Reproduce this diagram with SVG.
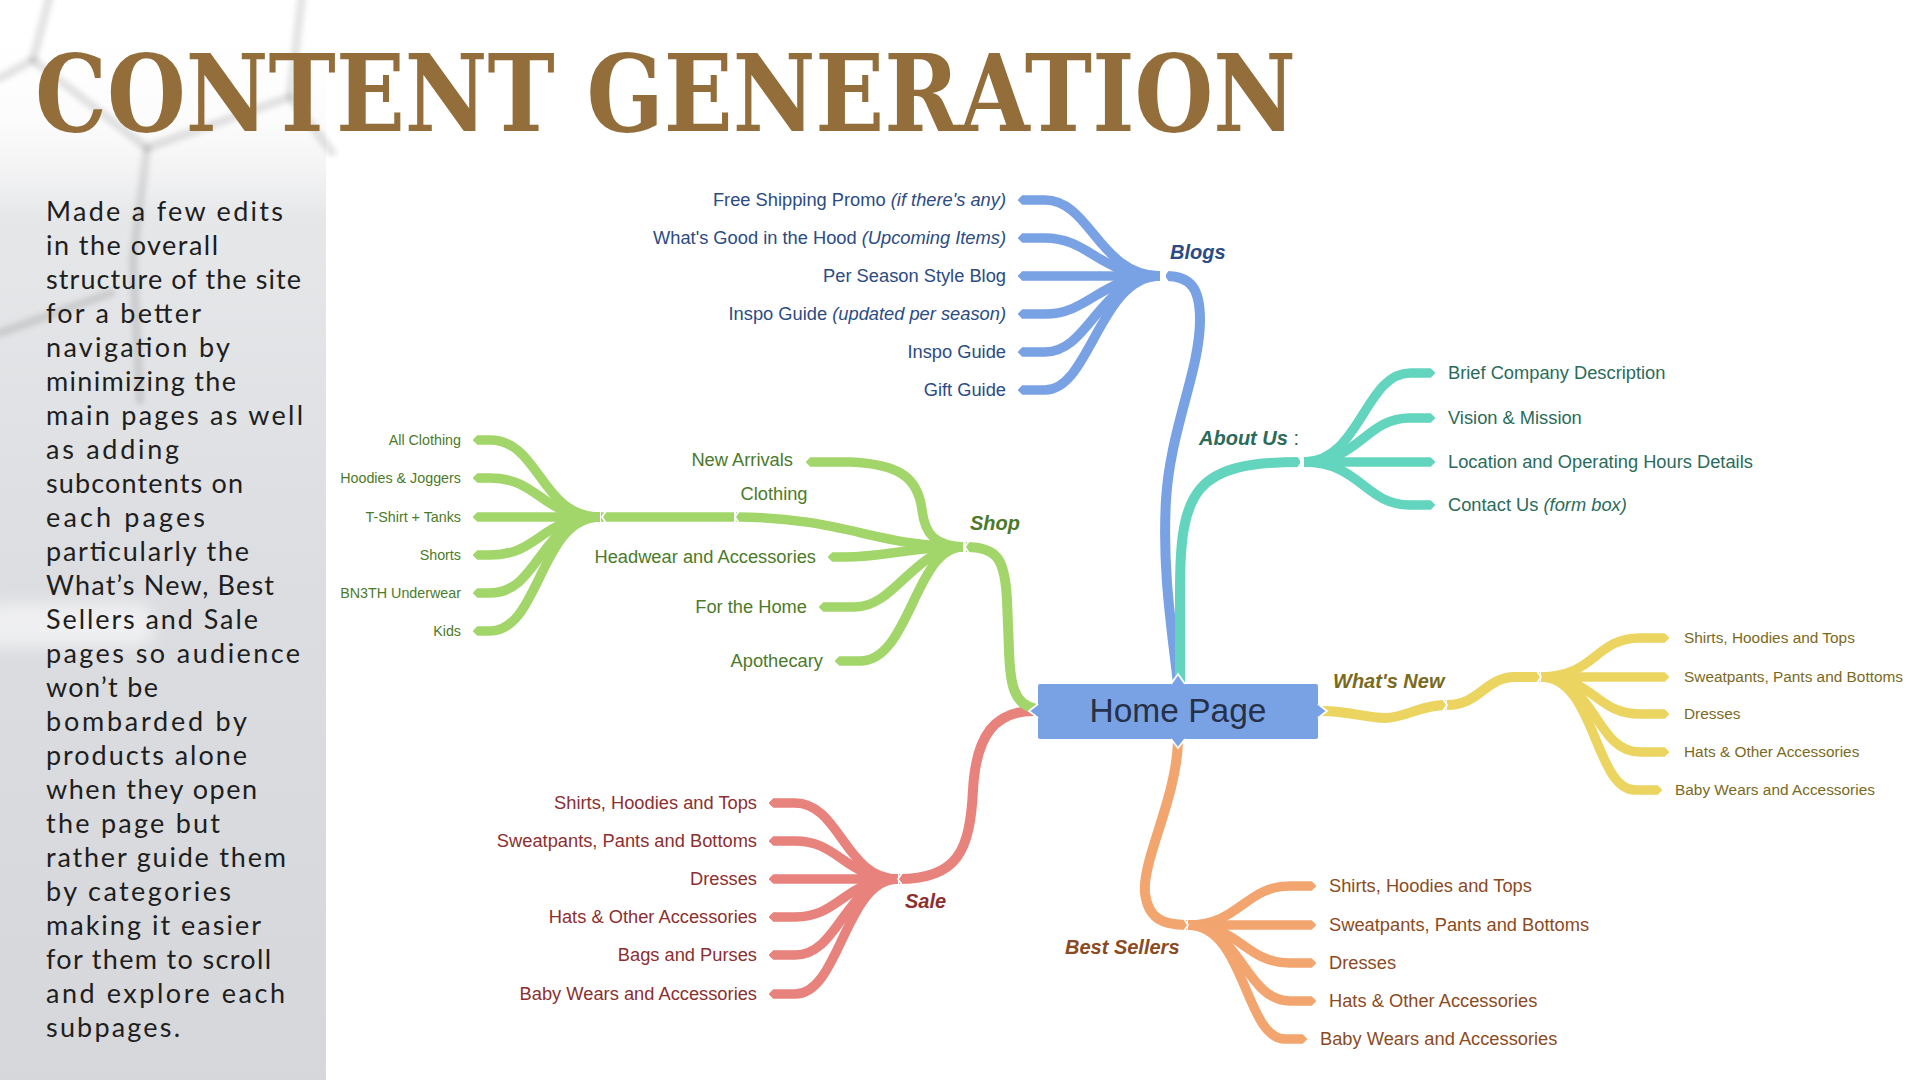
<svg xmlns="http://www.w3.org/2000/svg" width="1920" height="1080" viewBox="0 0 1920 1080">
<defs>
<linearGradient id="panelGrad" x1="0" y1="0" x2="0" y2="1">
<stop offset="0" stop-color="#ffffff" stop-opacity="0"/>
<stop offset="0.11" stop-color="#f4f4f5" stop-opacity="0.3"/>
<stop offset="0.2" stop-color="#e6e7e9"/>
<stop offset="0.55" stop-color="#dcdde0"/>
<stop offset="1" stop-color="#d6d7da"/>
</linearGradient>
<filter id="blur" x="-20%" y="-20%" width="140%" height="140%"><feGaussianBlur stdDeviation="2.5"/></filter>
<filter id="blur2" x="-50%" y="-50%" width="200%" height="200%"><feGaussianBlur stdDeviation="8"/></filter>
<marker id="mb" viewBox="0 0 5 10" refX="0.3" refY="5" markerWidth="0.5" markerHeight="1" orient="auto" markerUnits="strokeWidth"><path d="M0,0 L5,5 L0,10 Z" fill="#78a2e4"/></marker>
<marker id="mt" viewBox="0 0 5 10" refX="0.3" refY="5" markerWidth="0.5" markerHeight="1" orient="auto" markerUnits="strokeWidth"><path d="M0,0 L5,5 L0,10 Z" fill="#63d5bf"/></marker>
<marker id="my" viewBox="0 0 5 10" refX="0.3" refY="5" markerWidth="0.5" markerHeight="1" orient="auto" markerUnits="strokeWidth"><path d="M0,0 L5,5 L0,10 Z" fill="#ebd560"/></marker>
<marker id="mo" viewBox="0 0 5 10" refX="0.3" refY="5" markerWidth="0.5" markerHeight="1" orient="auto" markerUnits="strokeWidth"><path d="M0,0 L5,5 L0,10 Z" fill="#f2a56f"/></marker>
<marker id="mr" viewBox="0 0 5 10" refX="0.3" refY="5" markerWidth="0.5" markerHeight="1" orient="auto" markerUnits="strokeWidth"><path d="M0,0 L5,5 L0,10 Z" fill="#e8827c"/></marker>
<marker id="mg" viewBox="0 0 5 10" refX="0.3" refY="5" markerWidth="0.5" markerHeight="1" orient="auto" markerUnits="strokeWidth"><path d="M0,0 L5,5 L0,10 Z" fill="#a2d66b"/></marker>
</defs>
<style>
.c{fill:none;stroke-linecap:butt;stroke-linejoin:round}
.tr{stroke-width:10}
.lf{stroke-width:9.5}
.sb{stroke:#78a2e4}.lb .lf,.lb{}
.st{stroke:#63d5bf}
.sy{stroke:#ebd560}
.so{stroke:#f2a56f}
.sr{stroke:#e8827c}
.sg{stroke:#a2d66b}
.chev{fill:none;stroke:#ffffff;stroke-width:1.7;stroke-linejoin:miter}
.t{font-family:"Liberation Sans",Arial,sans-serif;font-size:18.3px}
.sm{font-size:14.3px}
.wn{font-size:15.4px}
.r{text-anchor:end}
.i{font-style:italic}
.lbl{font-family:"Liberation Sans",Arial,sans-serif;font-size:20px;font-weight:bold;font-style:italic}
.cb{fill:#2c4b82}.ct{fill:#2b6b5b}.cy{fill:#7a6a1e}.co{fill:#8b4b22}.cr{fill:#8c2f2f}.cg{fill:#4c7a29}
.para{font-family:Lato,"Open Sans",sans-serif;font-size:27px;fill:#1e1e1e}
</style>

<rect x="0" y="0" width="1920" height="1080" fill="#ffffff"/>

<g id="background-panel">
<rect x="0" y="0" width="326" height="1080" fill="url(#panelGrad)"/>
<rect x="-20" y="603" width="175" height="44" rx="20" fill="#ffffff" opacity="0.55" filter="url(#blur2)"/>
<g stroke="#000000" stroke-opacity="0.1" stroke-width="9" fill="none" filter="url(#blur)" stroke-linecap="round">
<polyline points="0,78 33,60 50,-5"/>
<polyline points="33,60 147,148 290,97 302,-5"/>
<polyline points="290,97 332,152"/>
<polyline points="147,148 133,260 140,400"/>
<polyline points="0,333 111,293"/>
</g>
</g>

<text id="title" x="35" y="131" font-family="'DejaVu Serif','Liberation Serif',serif" font-weight="bold" font-size="106" fill="#936e3a" textLength="1261" lengthAdjust="spacingAndGlyphs">CONTENT GENERATION</text>

<g id="description" class="para">
<text x="46" y="220.7" textLength="237">Made a few edits</text>
<text x="46" y="254.7" textLength="172">in the overall</text>
<text x="46" y="288.8" textLength="255">structure of the site</text>
<text x="46" y="322.8" textLength="155">for a better</text>
<text x="46" y="356.8" textLength="184">navigation by</text>
<text x="46" y="390.9" textLength="190">minimizing the</text>
<text x="46" y="424.9" textLength="257">main pages as well</text>
<text x="46" y="458.9" textLength="133">as adding</text>
<text x="46" y="492.9" textLength="197">subcontents on</text>
<text x="46" y="527.0" textLength="159">each pages</text>
<text x="46" y="561.0" textLength="203">particularly the</text>
<text x="46" y="595.0" textLength="228">What’s New, Best</text>
<text x="46" y="629.1" textLength="212">Sellers and Sale</text>
<text x="46" y="663.1" textLength="254">pages so audience</text>
<text x="46" y="697.1" textLength="112">won’t be</text>
<text x="46" y="731.2" textLength="201">bombarded by</text>
<text x="46" y="765.2" textLength="201">products alone</text>
<text x="46" y="799.2" textLength="211">when they open</text>
<text x="46" y="833.3" textLength="174">the page but</text>
<text x="46" y="867.3" textLength="240">rather guide them</text>
<text x="46" y="901.3" textLength="185">by categories</text>
<text x="46" y="935.4" textLength="215">making it easier</text>
<text x="46" y="969.4" textLength="225">for them to scroll</text>
<text x="46" y="1003.4" textLength="239">and explore each</text>
<text x="46" y="1037.4" textLength="134">subpages.</text>
</g>

<g id="connectors">
<!-- Blogs -->
<g class="c sb">
<path class="tr" d="M1178,684 C1172,630 1162,570 1166,500 C1170,430 1200,370 1200,320 C1200,290 1192,276 1166,276"/>
<g class="lf" marker-end="url(#mb)">
<path d="M1160,276 C1100,276 1090,200 1045,200 L1022,200"/>
<path d="M1160,276 C1100,276 1090,238 1045,238 L1022,238"/>
<path d="M1160,276 L1022,276"/>
<path d="M1160,276 C1100,276 1090,314 1045,314 L1022,314"/>
<path d="M1160,276 C1100,276 1090,352 1045,352 L1022,352"/>
<path d="M1160,276 C1100,276 1090,390 1045,390 L1022,390"/>
</g>
</g>
<!-- About Us -->
<g class="c st">
<path class="tr" d="M1180,684 L1180,590 C1180,490 1195,462 1300,462"/>
<g class="lf" marker-end="url(#mt)">
<path d="M1304,462 C1360,462 1365,373 1410,373 L1431,373"/>
<path d="M1304,462 C1360,462 1365,418 1410,418 L1431,418"/>
<path d="M1304,462 L1431,462"/>
<path d="M1304,462 C1360,462 1365,505 1410,505 L1431,505"/>
</g>
</g>
<!-- What's New -->
<g class="c sy">
<path class="tr" d="M1322,711 C1350,711 1365,718 1385,718 C1405,718 1420,705 1446,705"/>
<path class="tr" d="M1447,705 C1480,705 1485,677 1515,677 L1540,677"/>
<g class="lf" marker-end="url(#my)">
<path d="M1541,677 C1595,677 1595,638 1640,638 L1665,638"/>
<path d="M1541,677 L1665,677"/>
<path d="M1541,677 C1595,677 1595,714 1640,714 L1665,714"/>
<path d="M1541,677 C1595,677 1595,752 1640,752 L1665,752"/>
<path d="M1541,677 C1595,677 1595,790 1635,790 L1658,790"/>
</g>
</g>
<!-- Best Sellers -->
<g class="c so">
<path class="tr" d="M1178,742 C1176,800 1142,860 1145,893 C1148,918 1162,925 1187,925"/>
<g class="lf" marker-end="url(#mo)">
<path d="M1188,925 C1240,925 1245,886 1290,886 L1312,886"/>
<path d="M1188,925 L1312,925"/>
<path d="M1188,925 C1240,925 1245,963 1290,963 L1312,963"/>
<path d="M1188,925 C1240,925 1245,1001 1290,1001 L1312,1001"/>
<path d="M1188,925 C1245,925 1245,1039 1285,1039 L1303,1039"/>
</g>
</g>
<!-- Sale -->
<g class="c sr">
<path class="tr" d="M1034,711 C995,711 976,735 973,790 C970,850 958,879 899,879"/>
<g class="lf" marker-end="url(#mr)">
<path d="M898,879 C845,879 840,803 795,803 L773,803"/>
<path d="M898,879 C845,879 840,841 795,841 L773,841"/>
<path d="M898,879 L773,879"/>
<path d="M898,879 C845,879 840,917 795,917 L773,917"/>
<path d="M898,879 C845,879 840,955 795,955 L773,955"/>
<path d="M898,879 C845,879 840,994 795,994 L773,994"/>
</g>
</g>
<!-- Shop -->
<g class="c sg">
<path class="tr" d="M1036,709 C1014,705 1010,685 1009,650 L1007,600 C1005,560 998,547 966,547"/>
<path class="lf" d="M963,547 C880,547 840,517 736,517"/>
<path class="lf" d="M734,517 L601,517"/>
<g class="lf" marker-end="url(#mg)">
<path d="M963,547 C935,545 925,535 922,510 C918,478 900,464 850,462 L810,462"/>
<path d="M963,547 C910,547 885,557 845,557 L832,557"/>
<path d="M963,547 C915,547 895,607 855,607 L823,607"/>
<path d="M963,547 C915,547 910,661 860,661 L839,661"/>
<path d="M600,517 C540,517 540,440 490,440 L477,440"/>
<path d="M600,517 C540,517 540,478 490,478 L477,478"/>
<path d="M600,517 L477,517"/>
<path d="M600,517 C540,517 540,555 490,555 L477,555"/>
<path d="M600,517 C540,517 540,593 490,593 L477,593"/>
<path d="M600,517 C540,517 540,631 490,631 L477,631"/>
</g>
</g>
<!-- junction chevrons -->
<g class="chev">
<polyline points="1168,270 1164,276 1168,282"/>
<polyline points="1298,456 1302,462 1298,468"/>
<polyline points="1443,699 1447,705 1443,711"/>
<polyline points="1537,671 1541,677 1537,683"/>
<polyline points="1184,919 1188,925 1184,931"/>
<polyline points="902,873 898,879 902,885"/>
<polyline points="969,541 965,547 969,553"/>
<polyline points="739,511 735,517 739,523"/>
<polyline points="606,511 602,517 606,523"/>
</g>
</g>

<g id="node-home">
<rect x="1038" y="684" width="280" height="55" rx="2" fill="#79a2e4"/>
<polygon points="1171,685 1178,674 1185,685" fill="#79a2e4"/>
<polygon points="1171,738 1178,748 1185,738" fill="#79a2e4"/>
<polygon points="1039,704 1029,711 1039,718" fill="#79a2e4"/>
<polygon points="1317,704 1327,711 1317,718" fill="#79a2e4"/>
<g class="chev">
<polyline points="1171,684 1178,674 1185,684"/>
<polyline points="1171,739 1178,748 1185,739"/>
<polyline points="1038,704 1029,711 1038,718"/>
<polyline points="1318,704 1327,711 1318,718"/>
</g>
<text x="1178" y="722" text-anchor="middle" font-family="'Liberation Sans',Arial,sans-serif" font-size="33.5" fill="#263149">Home Page</text>
</g>

<g id="node-blogs"><text class="lbl cb" x="1170" y="259">Blogs</text></g>
<g id="blogs-1"><text class="t r cb" x="1006" y="206">Free Shipping Promo <tspan class="i">(if there's any)</tspan></text></g>
<g id="blogs-2"><text class="t r cb" x="1006" y="244">What's Good in the Hood <tspan class="i">(Upcoming Items)</tspan></text></g>
<g id="blogs-3"><text class="t r cb" x="1006" y="282">Per Season Style Blog</text></g>
<g id="blogs-4"><text class="t r cb" x="1006" y="320">Inspo Guide <tspan class="i">(updated per season)</tspan></text></g>
<g id="blogs-5"><text class="t r cb" x="1006" y="358">Inspo Guide</text></g>
<g id="blogs-6"><text class="t r cb" x="1006" y="396">Gift Guide</text></g>

<g id="node-about"><text class="lbl ct" x="1199" y="445">About Us<tspan font-weight="normal" font-style="normal"> :</tspan></text></g>
<g id="about-1"><text class="t ct" x="1448" y="379">Brief Company Description</text></g>
<g id="about-2"><text class="t ct" x="1448" y="424">Vision &amp; Mission</text></g>
<g id="about-3"><text class="t ct" x="1448" y="468">Location and Operating Hours Details</text></g>
<g id="about-4"><text class="t ct" x="1448" y="511">Contact Us <tspan class="i">(form box)</tspan></text></g>

<g id="node-whatsnew"><text class="lbl cy" x="1333" y="688">What's New</text></g>
<g id="whatsnew-1"><text class="t wn cy" x="1684" y="643">Shirts, Hoodies and Tops</text></g>
<g id="whatsnew-2"><text class="t wn cy" x="1684" y="682">Sweatpants, Pants and Bottoms</text></g>
<g id="whatsnew-3"><text class="t wn cy" x="1684" y="719">Dresses</text></g>
<g id="whatsnew-4"><text class="t wn cy" x="1684" y="757">Hats &amp; Other Accessories</text></g>
<g id="whatsnew-5"><text class="t wn cy" x="1675" y="795">Baby Wears and Accessories</text></g>

<g id="node-bestsellers"><text class="lbl co" x="1065" y="954">Best Sellers</text></g>
<g id="bestsellers-1"><text class="t co" x="1329" y="892">Shirts, Hoodies and Tops</text></g>
<g id="bestsellers-2"><text class="t co" x="1329" y="931">Sweatpants, Pants and Bottoms</text></g>
<g id="bestsellers-3"><text class="t co" x="1329" y="969">Dresses</text></g>
<g id="bestsellers-4"><text class="t co" x="1329" y="1007">Hats &amp; Other Accessories</text></g>
<g id="bestsellers-5"><text class="t co" x="1320" y="1045">Baby Wears and Accessories</text></g>

<g id="node-sale"><text class="lbl cr" x="905" y="908">Sale</text></g>
<g id="sale-1"><text class="t r cr" x="757" y="809">Shirts, Hoodies and Tops</text></g>
<g id="sale-2"><text class="t r cr" x="757" y="847">Sweatpants, Pants and Bottoms</text></g>
<g id="sale-3"><text class="t r cr" x="757" y="885">Dresses</text></g>
<g id="sale-4"><text class="t r cr" x="757" y="923">Hats &amp; Other Accessories</text></g>
<g id="sale-5"><text class="t r cr" x="757" y="961">Bags and Purses</text></g>
<g id="sale-6"><text class="t r cr" x="757" y="1000">Baby Wears and Accessories</text></g>

<g id="node-shop"><text class="lbl cg" x="970" y="530">Shop</text></g>
<g id="shop-1"><text class="t r cg" x="793" y="466">New Arrivals</text></g>
<g id="shop-2"><text class="t cg" x="774" y="500" text-anchor="middle">Clothing</text></g>
<g id="shop-3"><text class="t r cg" x="816" y="563">Headwear and Accessories</text></g>
<g id="shop-4"><text class="t r cg" x="807" y="613">For the Home</text></g>
<g id="shop-5"><text class="t r cg" x="823" y="667">Apothecary</text></g>

<g id="clothing-1"><text class="t sm r cg" x="461" y="445">All Clothing</text></g>
<g id="clothing-2"><text class="t sm r cg" x="461" y="483">Hoodies &amp; Joggers</text></g>
<g id="clothing-3"><text class="t sm r cg" x="461" y="522">T-Shirt + Tanks</text></g>
<g id="clothing-4"><text class="t sm r cg" x="461" y="560">Shorts</text></g>
<g id="clothing-5"><text class="t sm r cg" x="461" y="598">BN3TH Underwear</text></g>
<g id="clothing-6"><text class="t sm r cg" x="461" y="636">Kids</text></g>
</svg>
